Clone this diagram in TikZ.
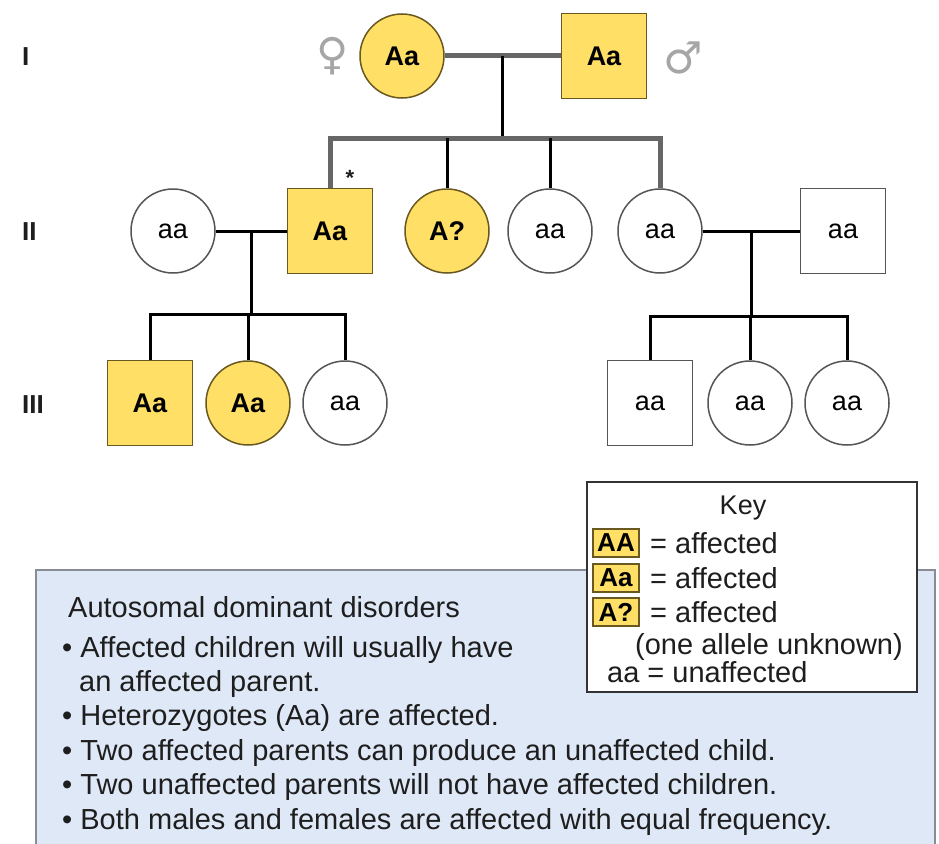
\documentclass[tikz,border=0pt]{standalone}
\usepackage{fontspec}
\setmainfont{Liberation Sans}
\newfontfamily\symfont{DejaVu Sans}
\usetikzlibrary{calc}
\definecolor{affected}{RGB}{255,223,102}
\definecolor{affdraw}{RGB}{105,88,32}
\definecolor{unaffdraw}{RGB}{85,85,85}
\definecolor{boxfill}{RGB}{222,232,246}
\definecolor{boxdraw}{RGB}{135,140,150}
\definecolor{txt}{RGB}{30,30,30}
\begin{document}
\begin{tikzpicture}[x=1pt,y=-1pt,
    fem/.style={circle,draw,minimum size=84pt,inner sep=0pt,line width=1.5pt},
    mal/.style={rectangle,draw,minimum width=85pt,minimum height=85pt,inner sep=0pt,line width=1.5pt},
    aff/.style={fill=affected,draw=affdraw,font=\fontsize{27}{30}\selectfont\bfseries},
    unaff/.style={fill=white,draw=unaffdraw,font=\fontsize{27}{30}\selectfont},
    gen/.style={anchor=west,inner sep=0pt,text=txt,font=\fontsize{26}{30}\selectfont\bfseries},
    sym/.style={text=gray!70,font=\symfont\fontsize{44}{44}\selectfont},
    line/.style={line width=3pt},
    gline/.style={line width=5pt,draw=black!60},
    swatch/.style={fill=affected,draw=affdraw,line width=1.5pt,minimum width=46pt,minimum height=28pt,inner sep=0pt,font=\fontsize{26}{28}\selectfont\bfseries},
    txtline/.style={anchor=west,inner sep=0pt,text=txt,font=\fontsize{29}{32}\selectfont}]
    \useasboundingbox (0,0) rectangle (939,843);
    % generation labels
    \node[gen] (gI) at (22,57) {I};
    \node[gen] (gII) at (22,232) {II};
    \node[gen] (gIII) at (22,405) {III};
    % generation I
    \path (402,56) node[fem,aff] (f1) {Aa};
    \path (604,56) node[mal,aff] (m1) {Aa};
    \node[sym] (fsym) at (333,56) {♀};
    \node[sym] (msym) at (683,58) {♂};
    % generation II
    \path (173,231) node[fem,unaff] (ii1) {aa};
    \path (330,231) node[mal,aff] (ii2) {Aa};
    \path (447,231) node[fem,aff] (ii3) {A?};
    \path (550,231) node[fem,unaff] (ii4) {aa};
    \path (660,231) node[fem,unaff] (ii5) {aa};
    \path (843,231) node[mal,unaff] (ii6) {aa};
    \node[font=\fontsize{22}{22}\selectfont\bfseries,text=txt] (star) at (350,178) {*};
    % generation III
    \path (150,403) node[mal,aff] (iii1) {Aa};
    \path (248,403) node[fem,aff] (iii2) {Aa};
    \path (345,403) node[fem,unaff] (iii3) {aa};
    \path (650,403) node[mal,unaff] (iii4) {aa};
    \path (750,403) node[fem,unaff] (iii5) {aa};
    \path (847,403) node[fem,unaff] (iii6) {aa};
    % lines
    \coordinate (c1) at ($(f1.east)!0.5!(m1.west)$);
    \coordinate (s1) at ($(c1)+(0,82)$);
    \draw[gline] (f1) -- (m1);
    \draw[line] (c1) -- (s1);
    \draw[gline] (ii2.north) |- (s1) -| (ii5.north);
    \draw[line] (ii3.north) -- (ii3.north |- s1);
    \draw[line] (ii4.north) -- (ii4.north |- s1);
    \coordinate (c2) at ($(ii1.east)!0.5!(ii2.west)$);
    \coordinate (s2) at ($(c2)+(0,83)$);
    \draw[line] (ii1) -- (ii2);
    \draw[line] (c2) -- (s2);
    \draw[line] (iii1.north) |- (s2) -| (iii3.north);
    \draw[line] (iii2.north) -- (iii2.north |- s2);
    \coordinate (c3) at ($(ii5.east)!0.5!(ii6.west)$);
    \coordinate (s3) at ($(c3)+(0,85)$);
    \draw[line] (ii5) -- (ii6);
    \draw[line] (c3) -- (s3);
    \draw[line] (iii4.north) |- (s3) -| (iii6.north);
    \draw[line] (iii5.north) -- (iii5.north |- s3);
    % summary box
    \draw[fill=boxfill,draw=boxdraw,line width=2pt] (36,570) rectangle (935,870);
    \node[txtline] (t0) at (68,607) {Autosomal dominant disorders};
    \node[txtline] (t1) at (62,650) {• Affected children will usually have};
    \node[txtline] (t1b) at (79,684) {an affected parent.};
    \node[txtline] (t2) at (62,718) {• Heterozygotes (Aa) are affected.};
    \node[txtline] (t3) at (62,753) {• Two affected parents can produce an unaffected child.};
    \node[txtline] (t4) at (62,787) {• Two unaffected parents will not have affected children.};
    \node[txtline] (t5) at (62,822) {• Both males and females are affected with equal frequency.};
    % key
    \node[draw=black!80,fill=white,line width=1.5pt,minimum width=330pt,minimum height=210pt] (key) at (752,587) {};
    \node[text=txt,font=\fontsize{27}{30}\selectfont] (keyt) at (743,508) {Key};
    \node[swatch] (kAA) at (616,543) {AA};
    \node[swatch] (kAa) at (616,578) {Aa};
    \node[swatch] (kA) at (616,612) {A?};
    \node[txtline] (l1) at (650,543) {= affected};
    \node[txtline] (l2) at (650,578) {= affected};
    \node[txtline] (l3) at (650,612) {= affected};
    \node[txtline] (l4) at (635,647) {(one allele unknown)};
    \node[txtline] (l5) at (607,672) {aa = unaffected};
\end{tikzpicture}
\end{document}
